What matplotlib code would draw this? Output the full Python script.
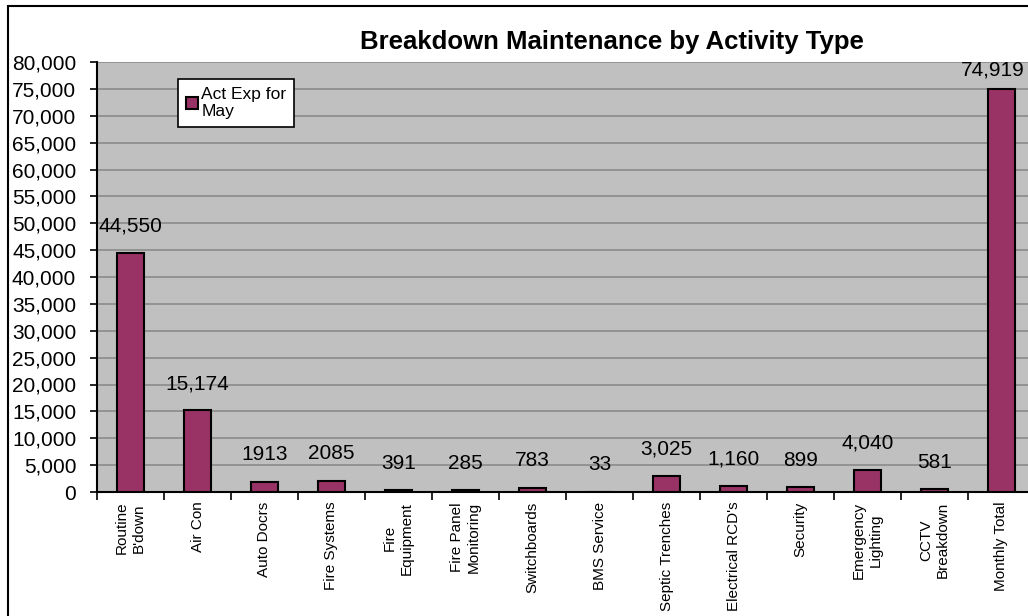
import matplotlib
matplotlib.use("Agg")
import matplotlib.pyplot as plt
from matplotlib.patches import Rectangle
from matplotlib.ticker import FuncFormatter, MultipleLocator
import numpy as np

plt.rcParams['font.family'] = ['Liberation Sans', 'DejaVu Sans']

categories = ["Routine\nB'down", "Air Con", "Auto Docrs", "Fire Systems",
              "Fire\nEquipment", "Fire Panel\nMonitoring", "Switchboards",
              "BMS Service", "Septic Trenches", "Electrical RCD's", "Security",
              "Emergency\nLighting", "CCTV\nBreakdown", "Monthly Total"]
values = [44550, 15174, 1913, 2085, 391, 285, 783, 33, 3025, 1160, 899, 4040, 581, 74919]
value_labels = ["44,550", "15,174", "1913", "2085", "391", "285", "783", "33",
                "3,025", "1,160", "899", "4,040", "581", "74,919"]

fig = plt.figure(figsize=(10.28, 6.16), dpi=100)
ax = fig.add_axes([97 / 1028, 1 - 492 / 616, 938 / 1028, 430 / 616])
ax.set_facecolor("#C0C0C0")

x = np.arange(len(categories))
ax.bar(x, values, width=0.41, color="#993366", edgecolor="black",
       linewidth=1.5, label="Act Exp for\nMay", zorder=3)

# data labels above the bars (kept inside the plot area / figure)
for i, v in enumerate(values):
    dx = -6 if i == len(values) - 1 else 0
    ax.annotate(value_labels[i], (i, min(v + 5000, 78500)), xytext=(dx, 0),
                textcoords="offset points", ha="center", va="center",
                fontsize=15, zorder=4)

ax.set_xlim(-0.5, len(categories) - 0.5)
ax.set_ylim(0, 80000)
ax.yaxis.set_major_locator(MultipleLocator(5000))
ax.yaxis.set_major_formatter(FuncFormatter(lambda v, p: f"{int(v):,}"))
ax.yaxis.grid(True, color="#8a8a8a", linewidth=1.2, zorder=0)
ax.set_axisbelow(True)

ax.set_xticks(x)
ax.set_xticklabels(categories, rotation=90, fontsize=11, ha="center",
                   va="top", multialignment="center", linespacing=1.25)
ax.set_xticks(np.arange(-0.5, len(categories)), minor=True)
ax.tick_params(axis="x", which="major", length=0, pad=7)
ax.tick_params(axis="x", which="minor", length=6, width=1.2, direction="out")
ax.tick_params(axis="y", length=5, width=1.2, direction="out", labelsize=15, pad=10)

for s in ["top", "right"]:
    ax.spines[s].set_visible(False)
for s in ["left", "bottom"]:
    ax.spines[s].set_linewidth(1.5)
    ax.spines[s].set_color("black")

fig.text(612 / 1028, 1 - 42 / 616, "Breakdown Maintenance by Activity Type",
         ha="center", va="center", fontsize=18.5, fontweight="bold")

leg = ax.legend(loc="upper left", bbox_to_anchor=(0.0864, 0.96), fontsize=12.5,
                frameon=True, fancybox=False, handlelength=0.7, handleheight=0.7,
                handletextpad=0.2, borderpad=0.45, borderaxespad=0)
leg.get_frame().set_edgecolor("black")
leg.get_frame().set_linewidth(1.2)
leg.get_frame().set_alpha(1)

fig.patches.append(Rectangle((8 / 1028, -0.05), 1.2, (616 - 6) / 616 + 0.05,
                             transform=fig.transFigure, fill=False,
                             edgecolor="black", linewidth=1.5))

fig.savefig("out.png", dpi=100)
